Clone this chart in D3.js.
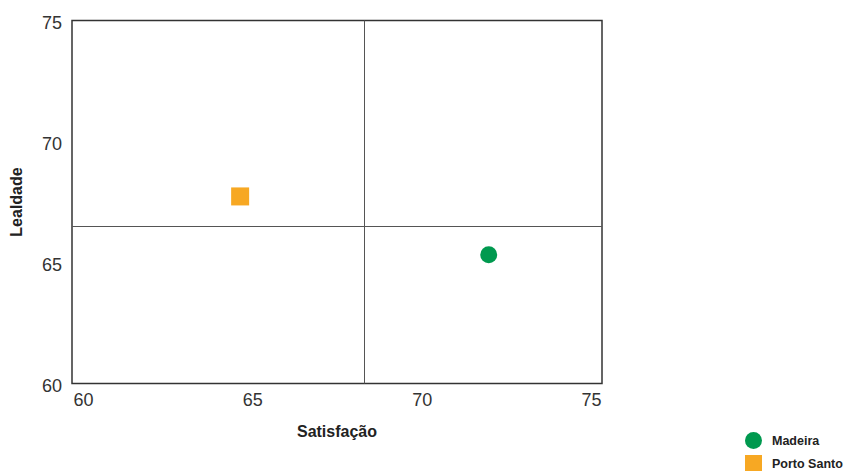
<!DOCTYPE html>
<html>
<head>
<meta charset="utf-8">
<script src="https://cdn.jsdelivr.net/npm/d3@7"></script>
<style>
  html, body { margin: 0; padding: 0; background: #fff; }
  svg { display: block; font-family: "Liberation Sans", Arial, sans-serif; }
</style>
</head>
<body>
<svg id="chart" width="846" height="471"></svg>
<script>
// Satisfaction vs. loyalty by region
const regions = ["Madeira", "Porto Santo"];
const satisfacao = [71.98, 64.64];
const lealdade = [65.32, 67.73];
const colors = ["#00994f", "#f7a823"];
const shapes = ["circle", "square"];
const xTicks = [60, 65, 70, 75];
const yTicks = [60, 65, 70, 75];

// Quadrant dividers at the mean of both regions
const meanX = d3.mean(satisfacao);
const meanY = d3.mean(lealdade);

const svg = d3.select("#chart");
const frame = { left: 72, right: 602, top: 20.5, bottom: 383.5 };

const x = d3.scaleLinear().domain([60, 75]).range([83, 591]);
const y = d3.scaleLinear().domain([60, 75]).range([frame.bottom, frame.top]);

// Plot frame
svg.append("rect")
  .attr("x", frame.left).attr("y", frame.top)
  .attr("width", frame.right - frame.left)
  .attr("height", frame.bottom - frame.top)
  .attr("fill", "none").attr("stroke", "#333").attr("stroke-width", 1.5);

// Quadrant lines
svg.append("line")
  .attr("x1", Math.round(x(meanX)) + 0.5).attr("x2", Math.round(x(meanX)) + 0.5)
  .attr("y1", frame.top).attr("y2", frame.bottom)
  .attr("stroke", "#555").attr("stroke-width", 1);
svg.append("line")
  .attr("x1", frame.left).attr("x2", frame.right)
  .attr("y1", Math.round(y(meanY)) + 0.5).attr("y2", Math.round(y(meanY)) + 0.5)
  .attr("stroke", "#555").attr("stroke-width", 1);

// X axis labels
const xAxis = d3.axisBottom(x).tickValues(xTicks).tickSize(0).tickPadding(0).tickFormat(d3.format("d"));
const gx = svg.append("g").attr("transform", `translate(0, ${frame.bottom + 10})`).call(xAxis);
gx.select(".domain").remove();
gx.selectAll("text").attr("font-size", 18).attr("fill", "#333")
  .attr("font-family", "Liberation Sans, Arial, sans-serif");

// Y axis labels
const yAxis = d3.axisLeft(y).tickValues(yTicks).tickSize(0).tickPadding(0).tickFormat(d3.format("d"));
const gy = svg.append("g").attr("transform", `translate(${frame.left - 10}, 2)`).call(yAxis);
gy.select(".domain").remove();
gy.selectAll("text").attr("font-size", 18).attr("fill", "#333")
  .attr("font-family", "Liberation Sans, Arial, sans-serif");

// Axis titles
svg.append("text")
  .attr("x", (frame.left + frame.right) / 2).attr("y", 437)
  .attr("text-anchor", "middle").attr("font-size", 16).attr("font-weight", "bold")
  .attr("fill", "#222").text("Satisfação");
svg.append("text")
  .attr("transform", `translate(22, ${(frame.top + frame.bottom) / 2}) rotate(-90)`)
  .attr("text-anchor", "middle").attr("font-size", 16).attr("font-weight", "bold")
  .attr("fill", "#222").text("Lealdade");

// Points
const pts = regions.map((r, i) => ({ r, sx: satisfacao[i], ly: lealdade[i], c: colors[i], s: shapes[i] }));
const g = svg.append("g");
pts.forEach(p => {
  if (p.s === "circle") {
    g.append("circle").attr("cx", x(p.sx)).attr("cy", y(p.ly)).attr("r", 8.5).attr("fill", p.c);
  } else {
    g.append("rect").attr("x", x(p.sx) - 9).attr("y", y(p.ly) - 9)
      .attr("width", 18).attr("height", 18).attr("fill", p.c);
  }
});

// Legend
const legend = svg.append("g").attr("transform", "translate(745, 432)");
regions.forEach((r, i) => {
  const row = legend.append("g").attr("transform", `translate(0, ${i * 23})`);
  if (shapes[i] === "circle") {
    row.append("circle").attr("cx", 8.5).attr("cy", 8.5).attr("r", 8.5).attr("fill", colors[i]);
  } else {
    row.append("rect").attr("x", 0).attr("y", 0).attr("width", 17).attr("height", 16).attr("fill", colors[i]);
  }
  row.append("text").attr("x", 27).attr("y", 12.5)
    .attr("font-size", 12.5).attr("font-weight", "bold").attr("fill", "#222").text(r);
});
</script>
</body>
</html>
